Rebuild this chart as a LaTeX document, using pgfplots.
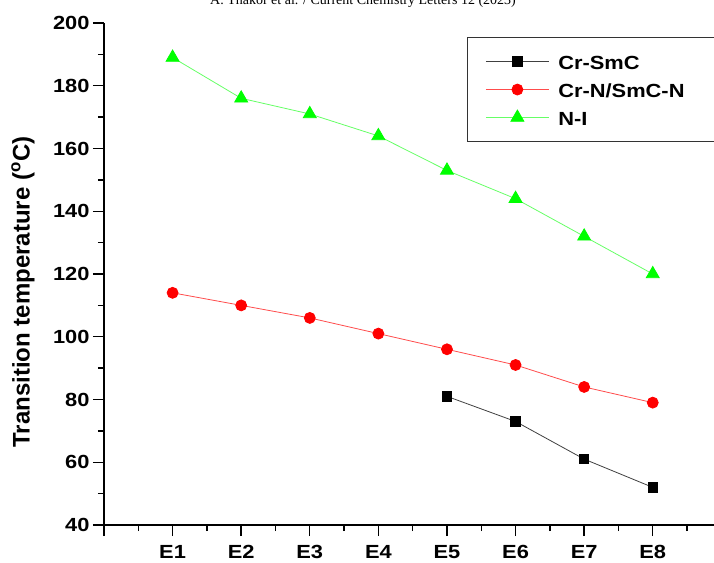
\documentclass[border=0pt]{standalone}
\usepackage{fontspec}
\setmainfont{Liberation Sans}
\newfontfamily\wide{Liberation Sans}[FakeStretch=1.15]
\newfontfamily\serifhdr{Liberation Serif}
\usepackage{pgfplots}
\pgfplotsset{compat=1.18}
\begin{document}
\begin{tikzpicture}
\useasboundingbox (-104pt,-37pt) rectangle (610pt,525pt);
\clip (-104pt,-37pt) rectangle (610pt,525pt);
\node[font=\serifhdr\fontsize{14}{16}\selectfont, anchor=base] at (259pt,520pt) {A. Thakor et al. / Current Chemistry Letters 12 (2023)};
\begin{axis}[
  at={(0pt,0pt)}, anchor=south west,
  scale only axis,
  width=610.5pt, height=502pt,
  xmin=0, xmax=8.9, ymin=40, ymax=200,
  axis lines=left,
  axis line style={-, line width=1.4pt},
  every tick/.style={line width=1.4pt, black},
  tick align=outside,
  major tick length=11pt, minor tick length=6pt,
  xtick={0,1,...,8},
  xticklabels={,E1,E2,E3,E4,E5,E6,E7,E8},
  minor xtick={0.5,1.5,...,8.5},
  ytick={40,60,...,200},
  minor ytick={50,70,...,190},
  tick label style={font=\wide\fontsize{19}{22}\selectfont\bfseries},
  xticklabel style={yshift=-6pt},
  /pgf/number format/assume math mode=true,
  every axis y label/.style={at={(axis description cs:-0.1327,0.464)}, rotate=90, anchor=center},
  ylabel={Transition temperature (\textsuperscript{o}C)},
  ylabel style={font=\fontsize{24}{28}\selectfont\bfseries},
  clip=false,
  legend style={
    at={(axis description cs:0.5946,0.972)}, anchor=north west,
    draw=black!80, line width=1pt,
    font=\wide\fontsize{19}{22}\selectfont\bfseries,
    inner xsep=18pt, inner ysep=15pt,
    nodes={inner sep=0pt, text height=17pt, text depth=1pt, anchor=west},
    row sep=10pt, column sep=9pt,
  },
  legend cell align=left,
  legend image code/.code={\draw[mark repeat=2,mark phase=2,#1] plot coordinates {(0pt,0pt)(31.5pt,0pt)(63pt,0pt)};},
]
\addplot[black!75, line width=0.8pt, mark=square*, mark size=4.7pt, mark options={fill=black, draw=black, solid}]
  coordinates {(5,81) (6,73) (7,61) (8,52)};
\addlegendentry{\makebox[200pt][l]{Cr-SmC}}
\addplot[red!70, line width=0.8pt, mark=*, mark size=5.5pt, mark options={fill=red, draw=red, solid}]
  coordinates {(1,114) (2,110) (3,106) (4,101) (5,96) (6,91) (7,84) (8,79)};
\addlegendentry{Cr-N/SmC-N}
\addplot[green!60!white, line width=0.8pt, mark=triangle*, mark size=7.5pt, mark options={fill=green, draw=green, solid}]
  coordinates {(1,189) (2,176) (3,171) (4,164) (5,153) (6,144) (7,132) (8,120)};
\addlegendentry{N-I}
\end{axis}
\end{tikzpicture}
\end{document}
